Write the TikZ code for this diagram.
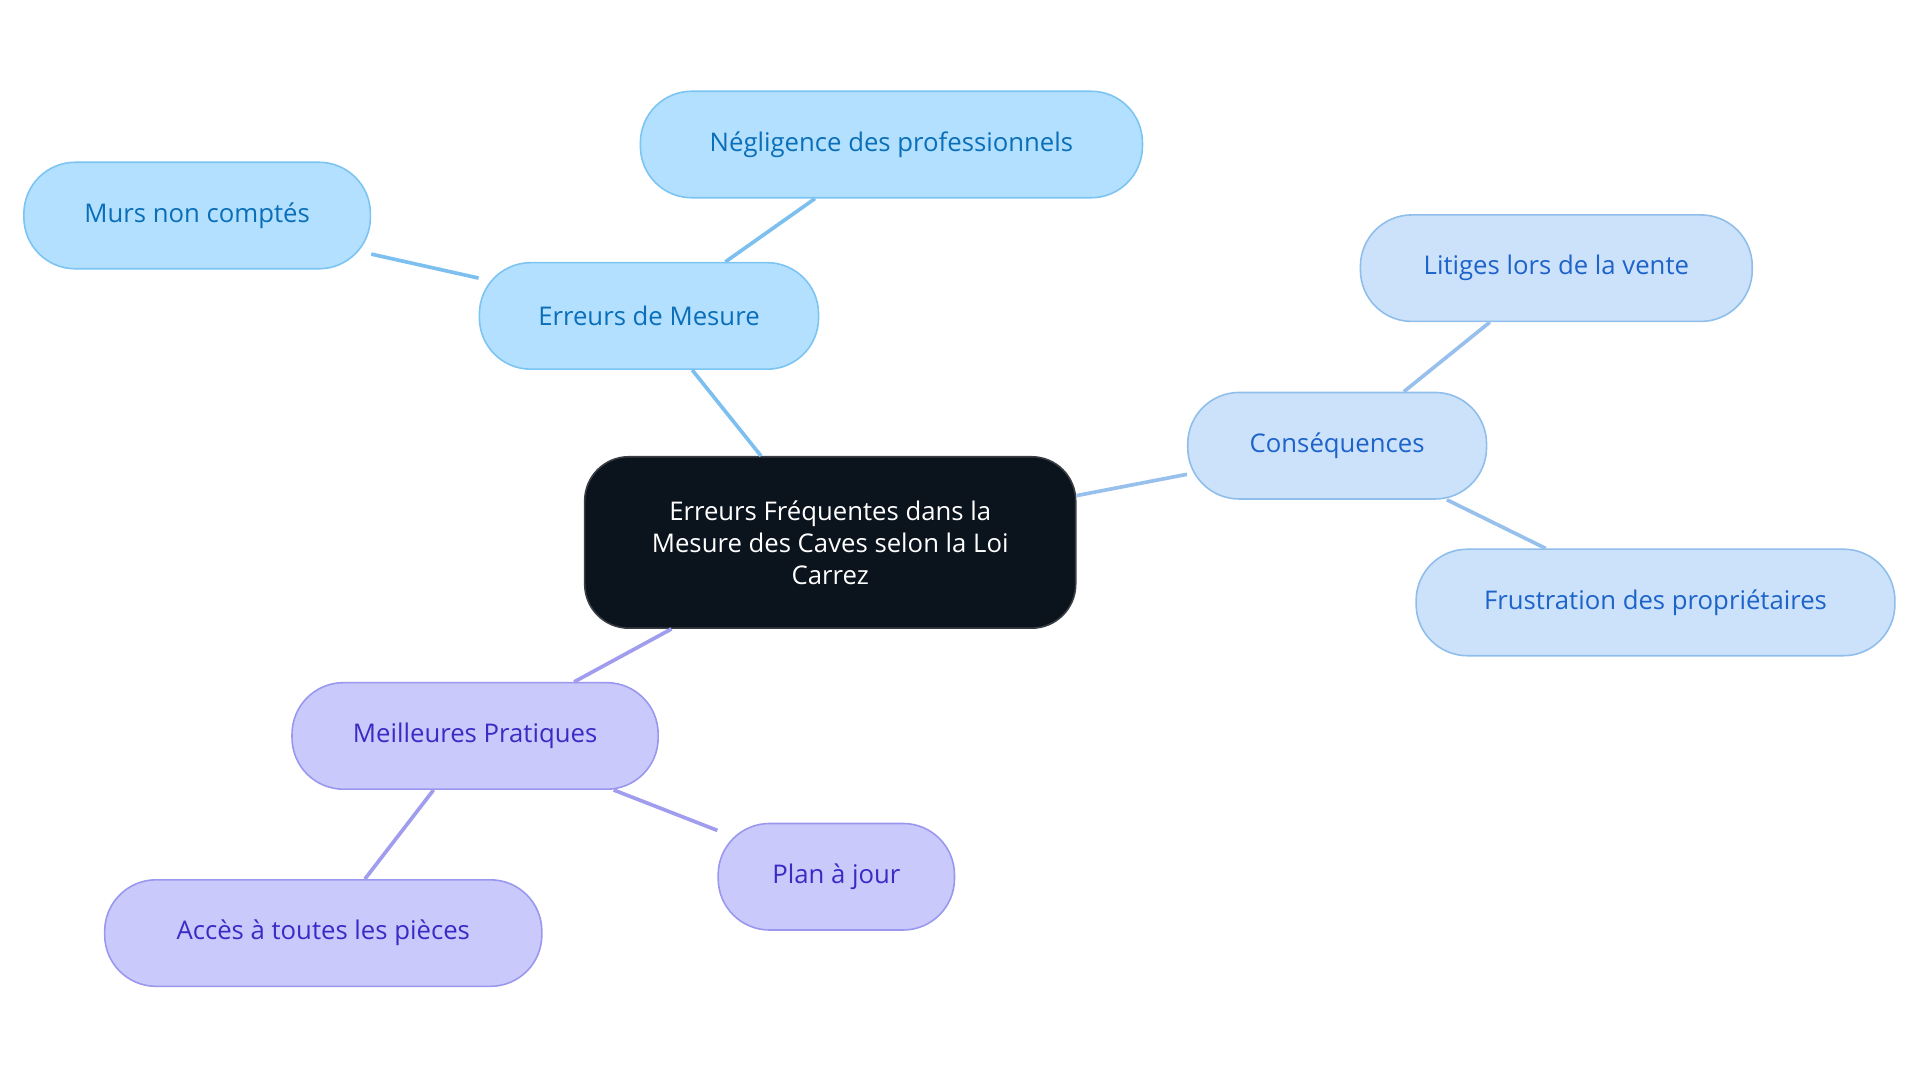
\documentclass[tikz,border=0pt]{standalone}
\usepackage{fontspec}
\setmainfont{Open Sans}
\begin{document}
\begin{tikzpicture}[x=1pt,y=-1pt,
  every node/.style={font=\fontsize{21}{26}\selectfont},
  pill/.style={draw,line width=1.3pt,rounded corners=42pt,minimum height=87pt,align=center,inner sep=0pt},
  bl/.style={pill,fill=cB,draw=cBd,text=cBt},
  lb/.style={pill,fill=cL,draw=cLd,text=cLt},
  pu/.style={pill,fill=cP,draw=cPd,text=cPt},
  eb/.style={draw=cBe,line width=3pt},
  el/.style={draw=cLe,line width=3pt},
  ep/.style={draw=cPe,line width=3pt}]
\definecolor{cB}{HTML}{B3E0FF}\definecolor{cBd}{HTML}{7CC4F2}\definecolor{cBt}{HTML}{0A6FB8}
\definecolor{cL}{HTML}{CCE2FB}\definecolor{cLd}{HTML}{8FBEEB}\definecolor{cLt}{HTML}{1D63C9}
\definecolor{cP}{HTML}{C9C9FB}\definecolor{cPd}{HTML}{9A98EE}\definecolor{cPt}{HTML}{3A2BC4}
\definecolor{cBe}{HTML}{7DC0EF}\definecolor{cLe}{HTML}{98C0EC}\definecolor{cPe}{HTML}{A09CEE}
\definecolor{cC}{HTML}{0B131D}
\useasboundingbox (0,0) rectangle (1568,884);
\node[pill,fill=cC,draw=cC!60!gray,text=white,minimum width=401pt,minimum height=140pt,rounded corners=36pt] (c) at (678,443) {Erreurs Fréquentes dans la\\Mesure des Caves selon la Loi\\Carrez};
\node[bl,minimum width=277pt] (e) at (530,258) {Erreurs de Mesure};
\node[bl,minimum width=410pt] (n) at (728,118) {Négligence des professionnels};
\node[bl,minimum width=283pt] (m) at (161,176) {Murs non comptés};
\node[lb,minimum width=244pt] (k) at (1092,364) {Conséquences};
\node[lb,minimum width=320pt] (l) at (1271,219) {Litiges lors de la vente};
\node[lb,minimum width=391pt] (f) at (1352,492) {Frustration des propriétaires};
\node[pu,minimum width=299pt] (p) at (388,601) {Meilleures Pratiques};
\node[pu,minimum width=193pt] (j) at (683,716) {Plan à jour};
\node[pu,minimum width=357pt] (a) at (264,762) {Accès à toutes les pièces};
\begin{scope}[on background layer/.style={}]
\end{scope}
\path[eb] (c) -- (e); \path[eb] (e) -- (n); \path[eb] (e) -- (m);
\path[el] (c) -- (k); \path[el] (k) -- (l); \path[el] (k) -- (f);
\path[ep] (c) -- (p); \path[ep] (p) -- (j); \path[ep] (p) -- (a);
\end{tikzpicture}
\end{document}
